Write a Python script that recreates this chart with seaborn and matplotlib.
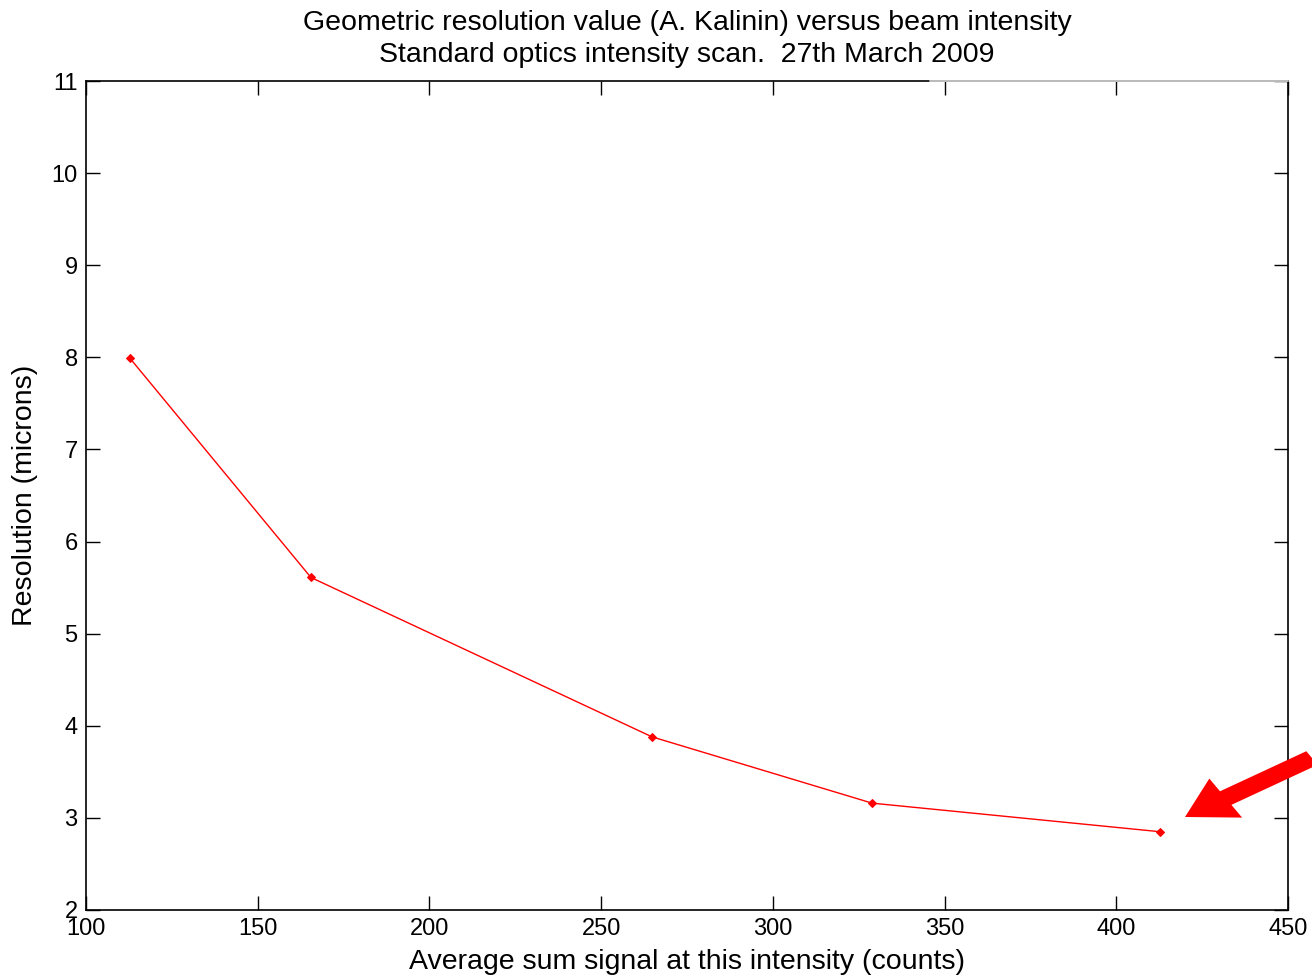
import matplotlib
matplotlib.use("Agg")
import matplotlib.pyplot as plt
import seaborn as sns
import pandas as pd
from matplotlib.lines import Line2D
from matplotlib.patches import FancyArrow

signal = [112.8, 165.5, 264.8, 328.9, 412.7]
resolution = [7.99, 5.61, 3.88, 3.16, 2.85]
xticks = [100, 150, 200, 250, 300, 350, 400, 450]
yticks = [2, 3, 4, 5, 6, 7, 8, 9, 10, 11]

sns.set_style("ticks")
plt.rcParams['font.family'] = ['Liberation Sans', 'DejaVu Sans']
plt.rcParams['text.color'] = 'black'
plt.rcParams['axes.labelcolor'] = 'black'

fig = plt.figure(figsize=(13.12, 9.76), dpi=100)
ax = fig.add_axes([86/1312, 1-910/976, (1288-86)/1312, (910-81)/976])

df = pd.DataFrame({"signal": signal, "resolution": resolution})
sns.lineplot(data=df, x="signal", y="resolution", ax=ax, color="red",
             marker="D", markersize=4, markeredgecolor="red", linewidth=1.0)

ax.set_xlim(100, 450)
ax.set_ylim(2, 11)
ax.set_xticks(xticks)
ax.set_yticks(yticks)
ax.tick_params(direction="in", length=10, width=1, top=True, right=True,
               labelsize=17, colors="black")
ax.tick_params(axis="x", pad=6)
ax.tick_params(axis="y", pad=6)
for s in ax.spines.values():
    s.set_visible(True)
    s.set_linewidth(1.2)
    s.set_color("black")

# light gray part of top border
ax.add_line(Line2D([(930-86)/1202, 1.0], [1.0, 1.0], transform=ax.transAxes,
                   color="#c0c0c0", linewidth=1.4, clip_on=False, zorder=5))

ax.set_xlabel("Average sum signal at this intensity (counts)", fontsize=20.5, labelpad=6)
ax.set_ylabel("Resolution (microns)", fontsize=20.5, labelpad=10)
ax.set_title("Geometric resolution value (A. Kalinin) versus beam intensity\n"
             "Standard optics intensity scan.  27th March 2009", fontsize=20.5,
             linespacing=1.3, pad=14, color="black")

# red arrow (figure coords)
x0, y0 = 1312/1312, 1-758/976
x1, y1 = 1185/1312, 1-817/976
arr = FancyArrow(x0, y0, x1-x0, y1-y0, width=16/976, head_width=46/976,
                 head_length=48/1312, length_includes_head=True,
                 transform=fig.transFigure, color="red", linewidth=0)
fig.patches.append(arr)

fig.savefig("out.png", dpi=100)
